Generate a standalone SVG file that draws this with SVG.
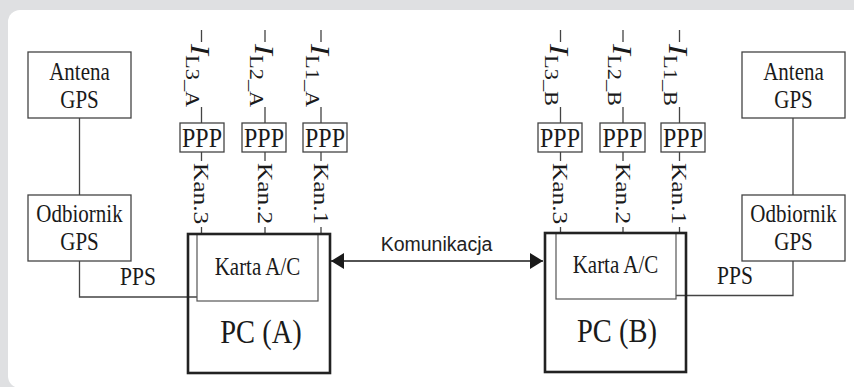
<svg xmlns="http://www.w3.org/2000/svg" width="854" height="387" viewBox="0 0 854 387">
<style>
.bg{fill:#dfe0e2}
.panel{fill:#ffffff}
.box{fill:#ffffff;stroke:#444;stroke-width:1.3}
.card{fill:#ffffff;stroke:#555;stroke-width:1.2}
.pc{fill:none;stroke:#222;stroke-width:2.6}
.ln{fill:none;stroke:#444;stroke-width:1.3}
.t{font-family:"Liberation Serif","Times New Roman",serif;fill:#1a1a1a;text-anchor:middle}
.r{font-family:"Liberation Serif","Times New Roman",serif;fill:#1a1a1a}
.it{font-style:italic;font-size:28px}
.sub{font-size:19px}
.kan{font-size:21.5px}
.s{font-family:"Liberation Sans",Arial,sans-serif;fill:#222;text-anchor:middle;font-size:19.5px}
</style>
<defs>
<marker id="ah" markerUnits="userSpaceOnUse" markerWidth="14" markerHeight="16" refX="13" refY="8" orient="auto-start-reverse">
<path d="M0,0 L13,8 L0,16 Z" fill="#1a1a1a"/>
</marker>
</defs>
<rect class="bg" x="0" y="0" width="854" height="387"/>
<rect class="panel" x="8" y="10" width="870" height="378" rx="12"/>

<g id="connectors">
<!-- GPS A -->
<path class="ln" d="M79.5,118 V195"/>
<path class="ln" d="M79.5,261 V297 H197"/>
<!-- GPS B -->
<path class="ln" d="M793,118 V195"/>
<path class="ln" d="M676,295.5 H793 V261"/>
<!-- channels A -->
<path class="ln" d="M201.5,30 V42 M201.5,107 V123 M201.5,152 V161 M201.5,227 V234"/>
<path class="ln" d="M265,30 V42 M265,107 V123 M265,152 V161 M265,227 V234"/>
<path class="ln" d="M321,30 V42 M321,107 V123 M321,152 V161 M321,227 V234"/>
<!-- channels B -->
<path class="ln" d="M560.5,30 V42 M560.5,107 V123 M560.5,152 V161 M560.5,227 V233"/>
<path class="ln" d="M623,30 V42 M623,107 V123 M623,152 V161 M623,227 V233"/>
<path class="ln" d="M679.5,30 V42 M679.5,107 V123 M679.5,152 V161 M679.5,227 V233"/>
<!-- communication -->
<line x1="331" y1="261" x2="543" y2="261" stroke="#1a1a1a" stroke-width="1.6" marker-start="url(#ah)" marker-end="url(#ah)"/>
<text class="s" x="436.5" y="251">Komunikacja</text>
<g transform="translate(138,285) scale(1,1.18)"><text class="t" x="0" y="0" font-size="21.5">PPS</text></g>
<g transform="translate(735,284) scale(1,1.18)"><text class="t" x="0" y="0" font-size="21.5">PPS</text></g>
</g>

<g id="antenaA">
<rect class="box" x="28" y="52" width="103" height="66"/>
<g transform="translate(79.5,80) scale(1,1.18)"><text class="t" font-size="21">Antena</text></g>
<g transform="translate(79.5,108) scale(1,1.18)"><text class="t" font-size="21">GPS</text></g>
</g>
<g id="odbiornikA">
<rect class="box" x="28" y="195" width="103" height="66"/>
<g transform="translate(79.5,222) scale(1,1.18)"><text class="t" font-size="21">Odbiornik</text></g>
<g transform="translate(79.5,250) scale(1,1.18)"><text class="t" font-size="21">GPS</text></g>
</g>
<g id="antenaB">
<rect class="box" x="742" y="52" width="103" height="66"/>
<g transform="translate(793.5,80) scale(1,1.18)"><text class="t" font-size="21">Antena</text></g>
<g transform="translate(793.5,108) scale(1,1.18)"><text class="t" font-size="21">GPS</text></g>
</g>
<g id="odbiornikB">
<rect class="box" x="742" y="195" width="103" height="66"/>
<g transform="translate(793.5,222) scale(1,1.18)"><text class="t" font-size="21">Odbiornik</text></g>
<g transform="translate(793.5,250) scale(1,1.18)"><text class="t" font-size="21">GPS</text></g>
</g>

<g id="pcA">
<rect class="card" x="197" y="234" width="121" height="67"/>
<g transform="translate(257.5,275) scale(1,1.18)"><text class="t" font-size="21">Karta A/C</text></g>
<rect class="pc" x="188" y="234" width="142" height="139"/>
<g transform="translate(261,343) scale(1,1.18)"><text class="t" font-size="28.5">PC (A)</text></g>
</g>
<g id="pcB">
<rect class="card" x="556" y="233" width="120" height="66"/>
<g transform="translate(615.5,273) scale(1,1.18)"><text class="t" font-size="21">Karta A/C</text></g>
<rect class="pc" x="545" y="233" width="141" height="139"/>
<g transform="translate(617,342) scale(1,1.18)"><text class="t" font-size="28.5">PC (B)</text></g>
</g>

<g id="pppA3"><rect class="box" x="180" y="123" width="44" height="29"/><g transform="translate(202,146.5) scale(1,1.18)"><text class="t" font-size="24">PPP</text></g></g>
<g id="pppA2"><rect class="box" x="242" y="123" width="44" height="29"/><g transform="translate(264,146.5) scale(1,1.18)"><text class="t" font-size="24">PPP</text></g></g>
<g id="pppA1"><rect class="box" x="303" y="123" width="44" height="29"/><g transform="translate(325,146.5) scale(1,1.18)"><text class="t" font-size="24">PPP</text></g></g>
<g id="pppB3"><rect class="box" x="538" y="123" width="44" height="29"/><g transform="translate(560,146.5) scale(1,1.18)"><text class="t" font-size="24">PPP</text></g></g>
<g id="pppB2"><rect class="box" x="600" y="123" width="45" height="29"/><g transform="translate(622.5,146.5) scale(1,1.18)"><text class="t" font-size="24">PPP</text></g></g>
<g id="pppB1"><rect class="box" x="661" y="123" width="44" height="29"/><g transform="translate(683,146.5) scale(1,1.18)"><text class="t" font-size="24">PPP</text></g></g>

<g id="labelsA">
<g transform="translate(201.5,44) scale(1,1.18) rotate(90)"><text class="r" x="0" y="10"><tspan class="it">I</tspan><tspan class="sub" dy="5">L3_A</tspan></text></g>
<g transform="translate(265,44) scale(1,1.18) rotate(90)"><text class="r" x="0" y="10"><tspan class="it">I</tspan><tspan class="sub" dy="5">L2_A</tspan></text></g>
<g transform="translate(321,44) scale(1,1.18) rotate(90)"><text class="r" x="0" y="10"><tspan class="it">I</tspan><tspan class="sub" dy="5">L1_A</tspan></text></g>
<g transform="translate(201.5,163) scale(1,1.18) rotate(90)"><text class="r kan" x="0" y="7">Kan.3</text></g>
<g transform="translate(265,163) scale(1,1.18) rotate(90)"><text class="r kan" x="0" y="7">Kan.2</text></g>
<g transform="translate(321,163) scale(1,1.18) rotate(90)"><text class="r kan" x="0" y="7">Kan.1</text></g>
</g>
<g id="labelsB">
<g transform="translate(560.5,44) scale(1,1.18) rotate(90)"><text class="r" x="0" y="10"><tspan class="it">I</tspan><tspan class="sub" dy="5">L3_B</tspan></text></g>
<g transform="translate(623,44) scale(1,1.18) rotate(90)"><text class="r" x="0" y="10"><tspan class="it">I</tspan><tspan class="sub" dy="5">L2_B</tspan></text></g>
<g transform="translate(679.5,44) scale(1,1.18) rotate(90)"><text class="r" x="0" y="10"><tspan class="it">I</tspan><tspan class="sub" dy="5">L1_B</tspan></text></g>
<g transform="translate(560.5,163) scale(1,1.18) rotate(90)"><text class="r kan" x="0" y="7">Kan.3</text></g>
<g transform="translate(623,163) scale(1,1.18) rotate(90)"><text class="r kan" x="0" y="7">Kan.2</text></g>
<g transform="translate(679.5,163) scale(1,1.18) rotate(90)"><text class="r kan" x="0" y="7">Kan.1</text></g>
</g>
</svg>
